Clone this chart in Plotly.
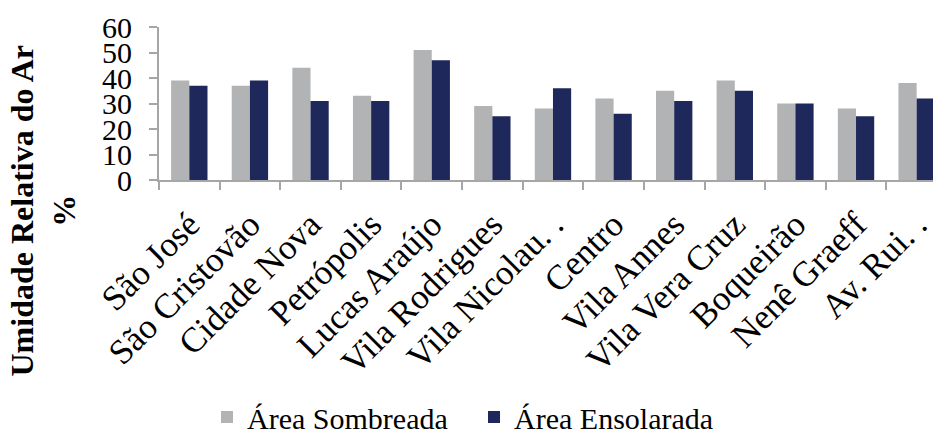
import plotly.graph_objects as go

# Bairros e umidade relativa do ar (%)
bairros = ["São José", "São Cristovão", "Cidade Nova", "Petrópolis", "Lucas Araújo",
           "Vila Rodrigues", "Vila Nicolau. .", "Centro", "Vila Annes", "Vila Vera Cruz",
           "Boqueirão", "Nenê Graeff", "Av. Rui. ."]
area_sombreada = [39, 37, 44, 33, 51, 29, 28, 32, 35, 39, 30, 28, 38]
area_ensolarada = [37, 39, 31, 31, 47, 25, 36, 26, 31, 35, 30, 25, 32]
y_ticks = [0, 10, 20, 30, 40, 50, 60]

FONT = "Liberation Serif"
AXIS_COLOR = "#A6A6A6"

fig = go.Figure()
fig.add_trace(go.Bar(name="Área Sombreada", x=bairros, y=area_sombreada,
                     marker=dict(color="#B2B3B5", line=dict(width=0))))
fig.add_trace(go.Bar(name="Área Ensolarada", x=bairros, y=area_ensolarada,
                     marker=dict(color="#1F285B", line=dict(width=0))))

fig.update_layout(
    width=933, height=436,
    margin=dict(l=159, r=0, t=27, b=256, autoexpand=False),
    paper_bgcolor="white", plot_bgcolor="white",
    barmode="group", bargap=0.4, bargroupgap=0,
    font=dict(family=FONT, color="black"),
    showlegend=True,
    legend=dict(orientation="h", x=0.407, xanchor="center", y=-1.549, yanchor="middle",
                font=dict(family=FONT, size=30), traceorder="normal",
                itemwidth=30, entrywidth=222, bgcolor="rgba(0,0,0,0)"),
    xaxis=dict(
        range=[-0.5, 12.27], type="category", automargin=False,
        showline=True, linecolor=AXIS_COLOR, linewidth=2,
        ticks="outside", tickson="boundaries", ticklen=8, tickcolor=AXIS_COLOR, tickwidth=2,
        tickangle=-45, tickfont=dict(family=FONT, size=35), ticklabelstandoff=8,
        showgrid=False, zeroline=False,
    ),
    yaxis=dict(
        range=[0, 60], tickvals=y_ticks, automargin=False,
        showline=True, linecolor=AXIS_COLOR, linewidth=2,
        ticks="outside", ticklen=8, tickcolor=AXIS_COLOR, tickwidth=2,
        tickfont=dict(family=FONT, size=30), ticklabelstandoff=11,
        showgrid=False, zeroline=False,
    ),
    annotations=[dict(
        text="<b>Umidade Relativa do Ar<br>%</b>",
        xref="paper", yref="paper", x=-0.15, y=-0.2,
        xanchor="center", yanchor="middle", textangle=-90,
        showarrow=False, font=dict(family=FONT, size=32, color="black"),
    )],
)

fig.write_html("out.html")
